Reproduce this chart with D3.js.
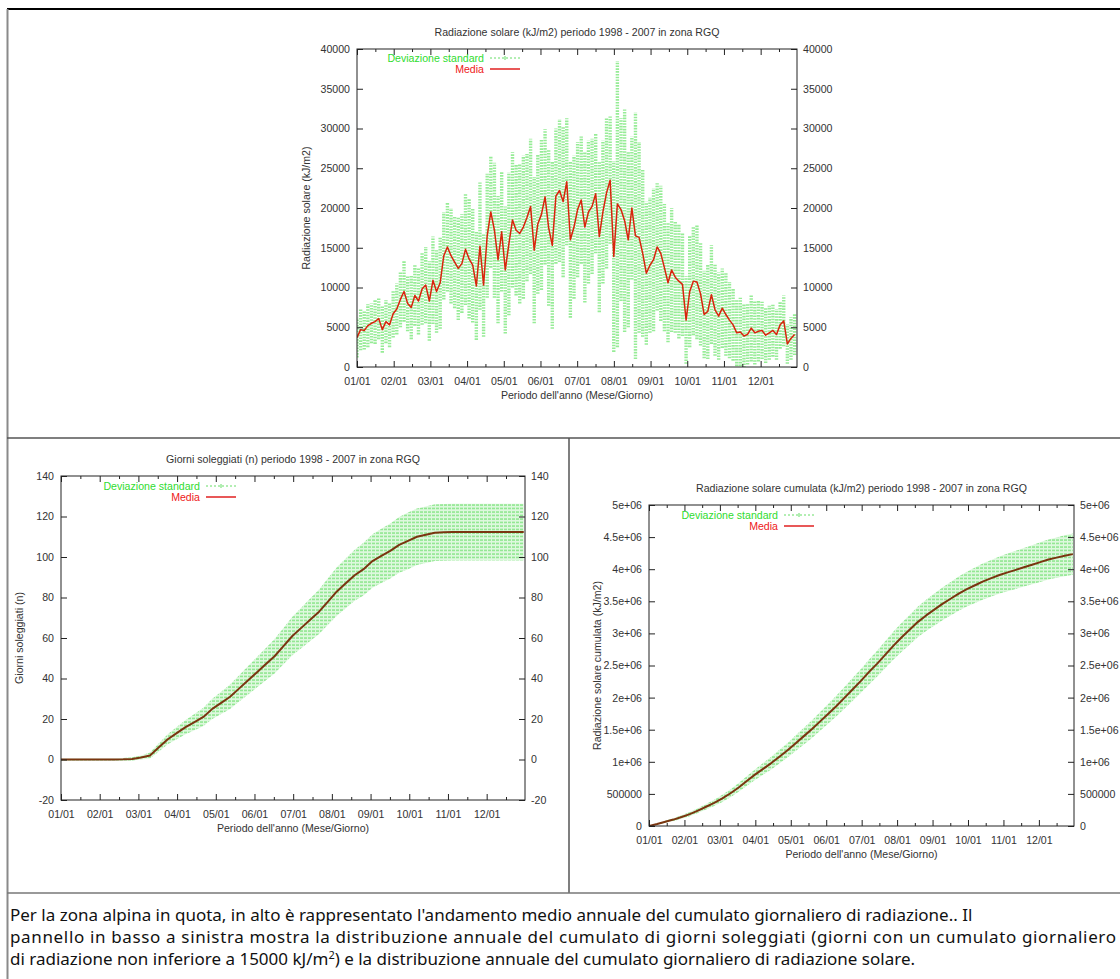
<!DOCTYPE html>
<html>
<head>
<meta charset="utf-8">
<title>Radiazione solare zona RGQ</title>
<script src="https://cdn.jsdelivr.net/npm/d3@7"></script>
<style>
body { margin: 0; background: #fff; }
.caption { font-family: "Noto Sans", sans-serif; font-size: 17px; fill: #111; }
</style>
</head>
<body>
<script>
var width = 1120, height = 979;

// daily radiation (kJ/m2), one reading every 3 days
var radDays = [0,3,6,9,12,15,18,21,24,27,
  30,33,36,39,42,45,48,51,54,57,
  60,63,66,69,72,75,78,81,84,87,
  90,93,96,99,102,105,108,111,114,117,
  120,123,126,129,132,135,138,141,144,147,
  150,153,156,159,162,165,168,171,174,177,
  180,183,186,189,192,195,198,201,204,207,
  210,213,216,219,222,225,228,231,234,237,
  240,243,246,249,252,255,258,261,264,267,
  270,273,276,279,282,285,288,291,294,297,
  300,303,306,309,312,315,318,321,324,327,
  330,333,336,339,342,345,348,351,354,357,
  360,363];
var radMean = [3700,4700,4600,5200,5500,5700,6100,4700,5700,5300,
  6700,7300,8500,9500,8000,7500,9000,8300,9800,10300,
  8300,10900,9500,10600,14000,15100,14000,13200,12400,13000,
  14800,13600,12800,10200,15200,10300,16500,19500,17200,13500,
  17000,12200,15500,18500,17200,16800,17600,18800,20200,14700,
  18000,19200,21400,17500,15300,21500,22200,20800,23300,16000,
  17600,19800,21000,17600,19500,20200,21800,16400,19500,21900,
  23500,13900,20500,19800,18400,16000,20000,16500,16300,14300,
  11800,12800,13500,15100,14300,12500,10600,12200,11300,10800,
  10400,5900,9500,10800,10700,9200,6600,7000,9100,7200,
  6400,7400,6600,5900,5300,4300,4400,3900,4100,4900,
  4300,4500,4600,4000,4300,4600,4100,5300,5800,2900,
  3600,4100];
var radSd = [2500,2600,2400,2700,2500,2800,2600,2900,2700,2800,
  3000,3200,3500,3800,3500,4000,3800,4200,4500,4800,
  5000,5500,5200,5800,5500,5600,6000,5800,6500,6200,
  7000,7500,7200,6800,8000,6500,7800,7000,8500,8000,
  7500,8000,9000,8500,8200,8800,9000,8000,8500,9200,
  8800,9500,8500,9800,10500,8500,9000,9500,8000,9800,
  9000,8500,8000,9500,9000,8500,7500,9500,9000,9500,
  8000,12000,18000,11500,14000,11000,9000,15500,12000,10500,
  9000,8500,9000,8000,8500,8000,7500,7800,7000,7200,
  6500,5500,7000,6800,7200,6500,5500,6000,6200,5800,
  5500,5000,5200,4800,4500,4200,4300,4000,3800,4200,
  4000,3800,3600,3500,3400,3300,3200,3000,3200,2500,
  2700,2600];

// weekly readings of the cumulated series
var weekDays = [0,7,14,21,28,35,42,49,56,63,
  70,77,84,91,98,105,112,119,126,133,
  140,147,154,161,168,175,182,189,196,203,
  210,217,224,231,238,245,252,259,266,273,
  280,287,294,301,308,315,322,329,336,343,
  350,357,364];
var sunMean = [0,0,0,0,0,0,0,0.1,0.3,1,
  2,6,10,13,16,18.5,21,25,28,31,
  35,39,43,47,51,56,61,65,69,73,
  78,83,87,91,94,98,100.5,103,106,108,
  110,111,112,112.2,112.3,112.3,112.3,112.3,112.3,112.3,
  112.3,112.3,112.3];
var sunSd = [0.5,0.5,0.5,0.5,0.5,0.5,0.5,0.6,0.8,1,
  1.5,2,2.5,3,3.5,4,4.5,5,5.5,6,
  6.5,7,7.5,8,8.5,9,9.5,10,10.5,11,
  11.5,12,12.3,12.6,13,13.2,13.4,13.6,13.8,14,
  14,14,14,14,14,14,14,14,14,14,
  14,14,14];
var cumMean = [0,30000,65000,100000,140000,185000,240000,300000,360000,430000,
  510000,600000,700000,800000,890000,980000,1080000,1180000,1290000,1400000,
  1510000,1630000,1750000,1870000,2000000,2130000,2260000,2400000,2530000,2670000,
  2810000,2940000,3060000,3180000,3280000,3370000,3460000,3540000,3620000,3690000,
  3750000,3810000,3860000,3910000,3950000,3990000,4030000,4070000,4110000,4150000,
  4180000,4210000,4235000];
var cumSd = [0,8000,15000,22000,28000,33000,38000,44000,50000,56000,
  62000,68000,75000,82000,90000,98000,106000,114000,122000,130000,
  138000,146000,154000,162000,170000,178000,186000,194000,202000,210000,
  218000,225000,232000,238000,244000,250000,256000,261000,266000,271000,
  276000,281000,285000,289000,293000,297000,301000,305000,309000,312000,
  315000,318000,321000];

var monthLabels = ["01/01","02/01","03/01","04/01","05/01","06/01","07/01","08/01","09/01","10/01","11/01","12/01"];
var legendText = ["Deviazione standard", "Media"];
var radTicks = [0,5000,10000,15000,20000,25000,30000,35000,40000];
var sunTicks = [-20,0,20,40,60,80,100,120,140];
var cumTicks = [0,500000,1000000,1500000,2000000,2500000,3000000,3500000,4000000,4500000,5000000];
var cumTickLabels = ["0","500000","1e+06","1.5e+06","2e+06","2.5e+06","3e+06","3.5e+06","4e+06","4.5e+06","5e+06"];

var svg = d3.select("body").append("svg")
  .attr("width", width)
  .attr("height", height);

var defs = svg.append("defs");
var pat = defs.append("pattern")
  .attr("id", "stripes")
  .attr("patternUnits", "userSpaceOnUse")
  .attr("width", 4).attr("height", 3.5);
pat.append("rect").attr("width", 4).attr("height", 3.5).attr("fill", "#ddf8dd");
pat.append("line")
  .attr("x1", 0).attr("x2", 4).attr("y1", 1).attr("y2", 1)
  .attr("stroke", "#78e278").attr("stroke-width", 1.2).attr("stroke-dasharray", "3,1");

var gpFont = "'Liberation Sans', Arial, sans-serif";
var gpSize = 10.6;

function styleAxis(g) {
  g.select(".domain").remove();
  g.selectAll("line").attr("stroke", "#222");
  g.selectAll("text").attr("font-family", gpFont).attr("font-size", gpSize).attr("fill", "#333");
}

function drawPanel(p) {
  var x = d3.scaleLinear().domain([0, 365]).range([p.left, p.right]);
  var y = d3.scaleLinear().domain(p.yDomain).range([p.bottom, p.top]);
  var majors = monthLabels.map(function(m, i) { return i * 30.44; });
  var minors = monthLabels.map(function(m, i) { return i * 30.44 + 15.22; });

  var g = svg.append("g");

  defs.append("clipPath").attr("id", "clip-" + p.id)
    .append("rect")
    .attr("x", p.left).attr("y", p.top)
    .attr("width", p.right - p.left).attr("height", p.bottom - p.top);

  var plot = g.append("g").attr("clip-path", "url(#clip-" + p.id + ")");

  // standard deviation
  if (p.style == "bars") {
    plot.selectAll("line.err")
      .data(p.days)
      .enter()
      .append("line")
      .attr("class", "err")
      .attr("x1", function(d) { return x(d); })
      .attr("x2", function(d) { return x(d); })
      .attr("y1", function(d, i) { return y(p.mean[i] - p.sd[i]); })
      .attr("y2", function(d, i) { return y(p.mean[i] + p.sd[i]); })
      .style("stroke", "#96ec96")
      .style("stroke-width", 3.4)
      .style("stroke-dasharray", "1.6,1.2");
  } else {
    var band = d3.area()
      .x(function(d) { return x(d); })
      .y0(function(d, i) { return y(p.mean[i] - p.sd[i]); })
      .y1(function(d, i) { return y(p.mean[i] + p.sd[i]); });
    plot.append("path")
      .datum(p.days)
      .attr("d", band)
      .style("fill", "url(#stripes)");
  }

  // mean
  var line = d3.line()
    .x(function(d) { return x(d); })
    .y(function(d, i) { return y(p.mean[i]); });
  plot.append("path")
    .datum(p.days)
    .attr("d", line)
    .style("fill", "none")
    .style("stroke", p.lineColor)
    .style("stroke-width", p.lineWidth)
    .style("stroke-linejoin", "round");

  // axes, ticks pointing inwards like gnuplot
  g.append("g").attr("transform", "translate(" + p.left + ",0)")
    .call(d3.axisLeft(y).tickValues(p.yTicks).tickSizeInner(-6).tickSizeOuter(0).tickPadding(7)
      .tickFormat(function(d, i) { return p.yLabels[i]; }))
    .call(styleAxis);
  g.append("g").attr("transform", "translate(" + p.right + ",0)")
    .call(d3.axisRight(y).tickValues(p.yTicks).tickSizeInner(-6).tickSizeOuter(0).tickPadding(6)
      .tickFormat(function(d, i) { return p.yLabels[i]; }))
    .call(styleAxis);
  g.append("g").attr("transform", "translate(0," + p.bottom + ")")
    .call(d3.axisBottom(x).tickValues(majors).tickSizeInner(-6).tickSizeOuter(0).tickPadding(10)
      .tickFormat(function(d, i) { return monthLabels[i]; }))
    .call(styleAxis);
  g.append("g").attr("transform", "translate(0," + p.bottom + ")")
    .call(d3.axisBottom(x).tickValues(minors).tickSizeInner(-3).tickSizeOuter(0).tickFormat(""))
    .call(styleAxis);
  g.append("g").attr("transform", "translate(0," + p.top + ")")
    .call(d3.axisTop(x).tickValues(majors).tickSizeInner(-6).tickSizeOuter(0).tickFormat(""))
    .call(styleAxis);
  g.append("g").attr("transform", "translate(0," + p.top + ")")
    .call(d3.axisTop(x).tickValues(minors).tickSizeInner(-3).tickSizeOuter(0).tickFormat(""))
    .call(styleAxis);

  g.append("rect")
    .attr("x", p.left).attr("y", p.top)
    .attr("width", p.right - p.left).attr("height", p.bottom - p.top)
    .style("fill", "none").style("stroke", "#222").style("stroke-width", 1);

  // titles
  g.append("text")
    .attr("x", (p.left + p.right) / 2).attr("y", p.top - 13)
    .attr("text-anchor", "middle")
    .attr("font-family", gpFont).attr("font-size", gpSize).attr("fill", "#333")
    .text(p.title);
  g.append("text")
    .attr("x", (p.left + p.right) / 2).attr("y", p.bottom + 32)
    .attr("text-anchor", "middle")
    .attr("font-family", gpFont).attr("font-size", gpSize).attr("fill", "#333")
    .text("Periodo dell'anno (Mese/Giorno)");
  g.append("text")
    .attr("transform", "translate(" + p.ylabelX + "," + ((p.top + p.bottom) / 2) + ") rotate(-90)")
    .attr("text-anchor", "middle")
    .attr("font-family", gpFont).attr("font-size", gpSize).attr("fill", "#333")
    .text(p.ylabel);

  // legend
  var kx = p.keyX, ky = p.keyY;
  g.append("text").attr("x", kx).attr("y", ky + 3.5).attr("text-anchor", "end")
    .attr("font-family", gpFont).attr("font-size", gpSize).attr("fill", "#2fdc2f")
    .text(legendText[0]);
  g.append("line").attr("x1", kx + 6).attr("x2", kx + 36).attr("y1", ky).attr("y2", ky)
    .style("stroke", "#66dd66").style("stroke-width", 1).style("stroke-dasharray", "2,2");
  g.append("line").attr("x1", kx + 21).attr("x2", kx + 21).attr("y1", ky - 2).attr("y2", ky + 2)
    .style("stroke", "#66dd66").style("stroke-width", 1);
  g.append("text").attr("x", kx).attr("y", ky + 14.5).attr("text-anchor", "end")
    .attr("font-family", gpFont).attr("font-size", gpSize).attr("fill", "#ee2020")
    .text(legendText[1]);
  g.append("line").attr("x1", kx + 6).attr("x2", kx + 36).attr("y1", ky + 11).attr("y2", ky + 11)
    .style("stroke", "#e02020").style("stroke-width", 1.5);
}

drawPanel({
  id: "rad", style: "bars",
  left: 357, right: 797, top: 49, bottom: 367,
  yDomain: [0, 40000], yTicks: radTicks, yLabels: radTicks.map(String),
  days: radDays, mean: radMean, sd: radSd,
  lineColor: "#d8240c", lineWidth: 1.5,
  title: "Radiazione solare (kJ/m2) periodo 1998 - 2007 in zona RGQ",
  ylabel: "Radiazione solare (kJ/m2)", ylabelX: 310,
  keyX: 484, keyY: 58
});

drawPanel({
  id: "sun", style: "band",
  left: 61, right: 525, top: 476, bottom: 800,
  yDomain: [-20, 140], yTicks: sunTicks, yLabels: sunTicks.map(String),
  days: weekDays, mean: sunMean, sd: sunSd,
  lineColor: "#7a3510", lineWidth: 2,
  title: "Giorni soleggiati (n) periodo 1998 - 2007 in zona RGQ",
  ylabel: "Giorni soleggiati (n)", ylabelX: 23,
  keyX: 200, keyY: 486
});

drawPanel({
  id: "cum", style: "band",
  left: 649, right: 1074, top: 505, bottom: 826,
  yDomain: [0, 5000000], yTicks: cumTicks, yLabels: cumTickLabels,
  days: weekDays, mean: cumMean, sd: cumSd,
  lineColor: "#7a3510", lineWidth: 2,
  title: "Radiazione solare cumulata (kJ/m2) periodo 1998 - 2007 in zona RGQ",
  ylabel: "Radiazione solare cumulata (kJ/m2)", ylabelX: 601,
  keyX: 778, keyY: 515
});

// table borders
var borders = [
  {x1: 7, y1: 9, x2: 1120, y2: 9, c: "#000", w: 2},
  {x1: 7.5, y1: 9, x2: 7.5, y2: 979, c: "#8a8a8a", w: 2},
  {x1: 7, y1: 438, x2: 1120, y2: 438, c: "#555", w: 1.5},
  {x1: 569, y1: 438, x2: 569, y2: 893, c: "#555", w: 1.5},
  {x1: 7, y1: 893, x2: 1120, y2: 893, c: "#777", w: 1.5}
];
svg.selectAll("line.border")
  .data(borders)
  .enter()
  .append("line")
  .attr("class", "border")
  .attr("x1", function(d) { return d.x1; })
  .attr("y1", function(d) { return d.y1; })
  .attr("x2", function(d) { return d.x2; })
  .attr("y2", function(d) { return d.y2; })
  .style("stroke", function(d) { return d.c; })
  .style("stroke-width", function(d) { return d.w; });

// caption
var cap = svg.append("g").attr("class", "caption");
cap.append("text").attr("x", 10).attr("y", 921)
  .text("Per la zona alpina in quota, in alto è rappresentato l'andamento medio annuale del cumulato giornaliero di radiazione.. Il");
cap.append("text").attr("x", 10).attr("y", 943)
  .attr("textLength", 1106).attr("lengthAdjust", "spacing")
  .text("pannello in basso a sinistra mostra la distribuzione annuale del cumulato di giorni soleggiati (giorni con un cumulato giornaliero");
var l3 = cap.append("text").attr("x", 10).attr("y", 965);
l3.append("tspan").text("di radiazione non inferiore a 15000 kJ/m");
l3.append("tspan").attr("dy", -6).attr("font-size", 11).text("2");
l3.append("tspan").attr("dy", 6).text(") e la distribuzione annuale del cumulato giornaliero di radiazione solare.");
</script>
</body>
</html>
